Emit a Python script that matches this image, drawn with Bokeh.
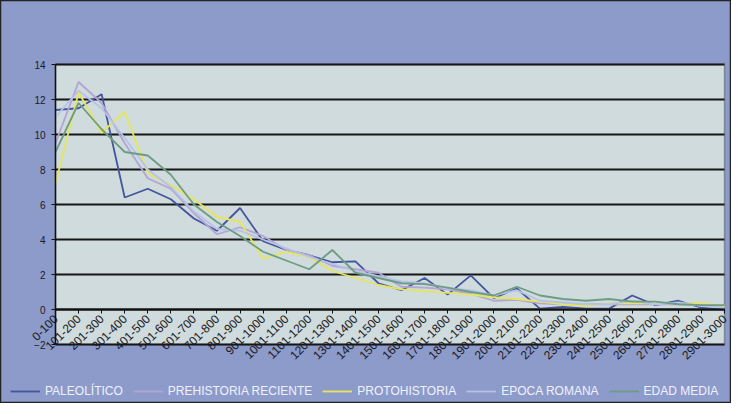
from math import pi
from bokeh.plotting import figure
from bokeh.models import Range1d, FixedTicker, LinearAxis, Legend, LegendItem, BoxAnnotation
from bokeh.embed import file_html
from bokeh.resources import INLINE

periods = ["0-100", "101-200", "201-300", "301-400", "401-500", "501-600",
           "601-700", "701-800", "801-900", "901-1000", "1001-1100", "1101-1200",
           "1201-1300", "1301-1400", "1401-1500", "1501-1600", "1601-1700",
           "1701-1800", "1801-1900", "1901-2000", "2001-2100", "2101-2200",
           "2201-2300", "2301-2400", "2401-2500", "2501-2600", "2601-2700",
           "2701-2800", "2801-2900", "2901-3000"]

paleolitico = [11.4, 11.5, 12.3, 6.4, 6.9, 6.3, 5.2, 4.5, 5.8, 3.9, 3.4, 3.1, 2.7, 2.75,
               1.5, 1.1, 1.8, 0.85, 1.95, 0.65, 1.2, 0.05, 0.15, 0.05, 0.05, 0.8, 0.25,
               0.5, 0.1, 0.0]
prehistoria_reciente = [9.5, 13.0, 11.8, 9.5, 7.5, 6.9, 5.5, 4.3, 4.7, 4.2, 3.4, 3.1, 2.5,
                        2.3, 2.1, 1.3, 1.25, 1.15, 0.9, 0.5, 0.55, 0.35, 0.3, 0.3, 0.3,
                        0.3, 0.3, 0.3, 0.25, 0.2]
protohistoria = [7.2, 12.4, 10.1, 11.3, 7.8, 7.1, 6.3, 5.3, 5.0, 2.9, 3.3, 3.0, 2.2, 1.8,
                 1.4, 1.15, 1.05, 0.95, 0.85, 0.7, 0.6, 0.45, 0.3, 0.2, 0.35, 0.35, 0.35,
                 0.35, 0.35, 0.2]
epoca_romana = [11.0, 12.5, 11.5, 9.8, 8.0, 7.0, 5.6, 4.6, 4.5, 4.0, 3.5, 3.0, 2.6, 2.2,
                1.9, 1.6, 1.5, 1.2, 1.1, 0.8, 1.1, 0.5, 0.4, 0.3, 0.3, 0.5, 0.3, 0.4,
                0.2, 0.1]
edad_media = [9.0, 11.8, 10.3, 9.0, 8.8, 7.7, 6.0, 5.0, 4.2, 3.3, 2.8, 2.3, 3.4, 2.1,
              1.8, 1.5, 1.45, 1.25, 1.0, 0.8, 1.3, 0.8, 0.6, 0.5, 0.6, 0.45, 0.45, 0.3,
              0.25, 0.25]

y_ticks = [-2, 0, 2, 4, 6, 8, 10, 12, 14]

series = [
    ("PALEOLÍTICO", paleolitico, "#44559c"),
    ("PREHISTORIA RECIENTE", prehistoria_reciente, "#b2a4d4"),
    ("PROTOHISTORIA", protohistoria, "#e6e65a"),
    ("EPOCA ROMANA", epoca_romana, "#b6c2ea"),
    ("EDAD MEDIA", edad_media, "#6e9c82"),
]

x = list(range(len(periods)))
x_first, x_last = x[0], x[-1]
y_lo, y_hi = y_ticks[0], y_ticks[-1]

# layout (pixels inside the figure)
W, H = 731, 403
area_left, area_right = 55, 724
area_top, area_bottom = 64, 344
xs = (area_right - area_left) / (x_last - x_first)
ys = (area_bottom - area_top) / (y_hi - y_lo)
x_range = Range1d(x_first - area_left / xs, x_last + (W - area_right) / xs)
y_range = Range1d(y_lo - (H - area_bottom) / ys, y_hi + area_top / ys)

p = figure(width=W, height=H, output_backend="svg", toolbar_location=None,
           x_range=x_range, y_range=y_range, x_axis_type=None, y_axis_type=None,
           min_border=0)

BLUE = "#8d9bcb"
p.background_fill_color = BLUE
p.border_fill_color = BLUE
p.outline_line_color = "#222222"
p.outline_line_width = 1.5

# light plot area with black border
p.add_layout(BoxAnnotation(left=x_first, right=x_last, bottom=y_lo, top=y_hi,
                           fill_color="#cfdbdc", fill_alpha=1.0,
                           line_color="#111111", line_width=1.5, level="underlay"))

# horizontal gridlines
p.segment(x0=[x_first] * len(y_ticks), x1=[x_last] * len(y_ticks),
          y0=y_ticks, y1=y_ticks, line_color="#161616", line_width=2)

# y axis
yaxis = LinearAxis(ticker=FixedTicker(ticks=y_ticks), fixed_location=x_first,
                   bounds=(y_lo, y_hi))
yaxis.axis_line_color = "#111111"
yaxis.axis_line_width = 1.5
yaxis.major_tick_out = 4
yaxis.major_tick_in = 0
yaxis.minor_tick_line_color = None
yaxis.major_tick_line_color = "#111111"
yaxis.major_label_text_font = "Liberation Sans"
yaxis.major_label_text_font_size = "10px"
yaxis.major_label_text_color = "#1a1a22"
yaxis.major_label_standoff = 6
p.add_layout(yaxis, "left")

# x axis crossing at 0
xaxis = LinearAxis(ticker=FixedTicker(ticks=x), fixed_location=0,
                   bounds=(x_first, x_last),
                   major_label_overrides={i: lab for i, lab in zip(x, periods)})
xaxis.major_label_orientation = pi / 4
xaxis.axis_line_color = "#111111"
xaxis.axis_line_width = 2
xaxis.major_tick_out = 4
xaxis.major_tick_in = 0
xaxis.minor_tick_line_color = None
xaxis.major_tick_line_color = "#111111"
xaxis.major_label_text_font = "Liberation Sans"
xaxis.major_label_text_font_size = "12px"
xaxis.major_label_text_color = "#1a1a22"
xaxis.major_label_standoff = 3
p.add_layout(xaxis, "below")

items = []
for name, vals, col in series:
    r = p.line(x, vals, line_color=col, line_width=1.8)
    items.append(LegendItem(label=name, renderers=[r]))

legend = Legend(items=items, orientation="horizontal", location=(10, 5),
                background_fill_alpha=0, border_line_color=None,
                label_text_color="#f0f2fa", label_text_font="Liberation Sans",
                label_text_font_size="12px", glyph_width=30, glyph_height=12,
                label_standoff=5, spacing=10, padding=0, margin=0)
p.add_layout(legend, "center")

open("out.html", "w").write(file_html(p, INLINE))
